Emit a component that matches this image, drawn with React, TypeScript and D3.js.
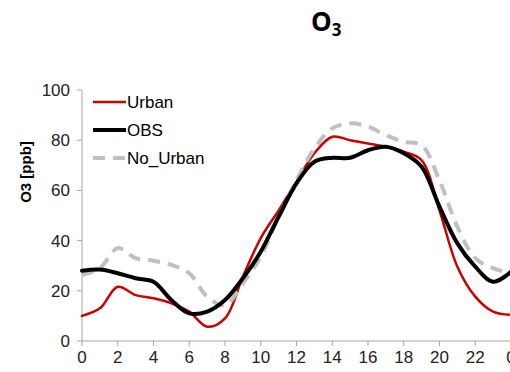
import React from "react";
import * as d3 from "d3";

const hours = d3.range(0, 25);
const tickValues = [0, 2, 4, 6, 8, 10, 12, 14, 16, 18, 20, 22, 24];
const tickLabels = ["0", "2", "4", "6", "8", "10", "12", "14", "16", "18", "20", "22", "0"];
const yTicks = [0, 20, 40, 60, 80, 100];

const urban = [10, 13, 21.6, 18.3, 17, 15, 11.7, 5.7, 9, 25.6, 41, 52, 63.5, 74.8, 81.4, 80, 78.7, 77.4, 75.4, 72, 52, 29.6, 17.7, 11.7, 10.4];
const obs = [28, 28.5, 27, 25, 23.6, 16.3, 11, 11.7, 16.3, 25, 35.6, 49.5, 62.8, 71.4, 73, 73, 76, 77.4, 74.8, 69.4, 53.5, 38.9, 29.6, 23.6, 27.6];
const noUrban = [26.3, 29, 37, 33, 32, 30.3, 27, 17.7, 14.3, 23, 33.6, 49.5, 64, 76.7, 84.7, 86.7, 85.4, 82, 79.4, 78, 64, 45.5, 33, 29, 27];

const seriesNames = ["Urban", "OBS", "No_Urban"];

export default function App() {
  const x = d3.scaleLinear().domain([0, 24]).range([82, 511]);
  const y = d3.scaleLinear().domain([0, 100]).range([341, 90]);
  const line = d3
    .line<number>()
    .x((_, i) => x(hours[i]))
    .y((d) => y(d))
    .curve(d3.curveCatmullRom.alpha(0.5));

  const styles = [
    { data: urban, stroke: "#cc0000", width: 2.5, dash: undefined as string | undefined },
    { data: noUrban, stroke: "#c0c0c0", width: 4, dash: "12,8" },
    { data: obs, stroke: "#000000", width: 4, dash: undefined },
  ];
  const legend = [
    { name: seriesNames[0], stroke: "#cc0000", width: 2.5, dash: undefined as string | undefined },
    { name: seriesNames[1], stroke: "#000000", width: 4, dash: undefined },
    { name: seriesNames[2], stroke: "#c0c0c0", width: 4, dash: "12,8" },
  ];
  const font = "Liberation Sans, Arial, sans-serif";
  const axisColor = "#a6a6a6";

  return (
    <svg
      width={510}
      height={372}
      style={{ position: "absolute", left: 0, top: 0, background: "#fff" }}
      fontFamily={font}
    >
      <text x={311} y={31} fontSize={26} fontWeight="bold" fontFamily="Open Sans, sans-serif" fill="#000">
        O<tspan fontSize={17} dy={5}>3</tspan>
      </text>
      <text
        transform={`translate(31,${172}) rotate(-90)`}
        textAnchor="middle"
        fontSize={15}
        fontWeight="bold"
        fill="#000"
      >
        O3 [ppb]
      </text>
      {/* y axis */}
      <line x1={82} x2={82} y1={y(100)} y2={y(0)} stroke={axisColor} strokeWidth={1} />
      {yTicks.map((t) => (
        <g key={t}>
          <line x1={77} x2={82} y1={y(t)} y2={y(t)} stroke={axisColor} />
          <text x={70} y={y(t)} dy="0.35em" textAnchor="end" fontSize={17} fill="#222">
            {t}
          </text>
        </g>
      ))}
      {/* x axis */}
      <line x1={82} x2={511} y1={y(0)} y2={y(0)} stroke={axisColor} />
      {tickValues.map((t, i) => (
        <g key={i}>
          <line x1={x(t)} x2={x(t)} y1={y(0)} y2={y(0) + 5} stroke={axisColor} />
          <text x={x(t)} y={y(0) + 22} textAnchor="middle" fontSize={17} fill="#222">
            {tickLabels[i]}
          </text>
        </g>
      ))}
      {styles.map((s, i) => (
        <path
          key={i}
          d={line(s.data) || ""}
          fill="none"
          stroke={s.stroke}
          strokeWidth={s.width}
          strokeDasharray={s.dash}
          strokeLinejoin="round"
          strokeLinecap={s.dash ? "butt" : "round"}
        />
      ))}
      {legend.map((l, i) => (
        <g key={l.name} transform={`translate(0,${102 + i * 28})`}>
          <line x1={93} x2={126} y1={0} y2={0} stroke={l.stroke} strokeWidth={l.width} strokeDasharray={l.dash} />
          <text x={127} y={0} dy="0.35em" fontSize={17} fill="#000">
            {l.name}
          </text>
        </g>
      ))}
    </svg>
  );
}
